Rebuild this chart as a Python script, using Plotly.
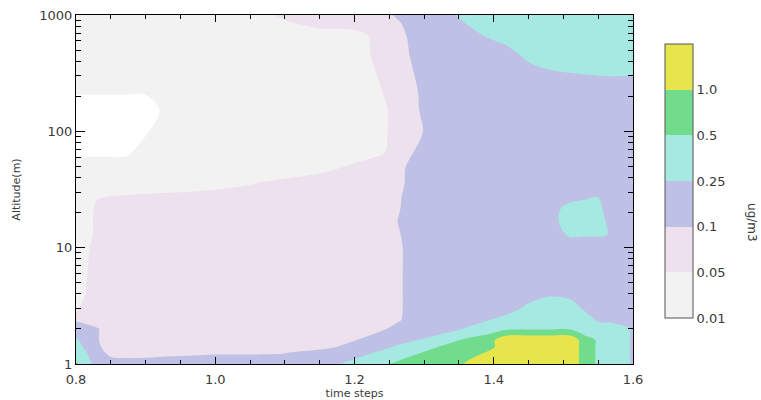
import numpy as np
import plotly.graph_objects as go

# ---------------- data ----------------
TIME_STEPS = [0.800, 0.815, 0.830, 0.850, 0.870, 0.900, 0.930, 0.970, 1.000, 1.050,
              1.100, 1.150, 1.200, 1.225, 1.250, 1.265, 1.280, 1.300, 1.330, 1.360,
              1.390, 1.420, 1.450, 1.480, 1.510, 1.530, 1.550, 1.570, 1.600]

ALTITUDE_M = [1.0, 1.12, 1.26, 1.41, 1.6, 1.8, 2.0, 2.4, 3.0, 4.0, 6.0, 10, 13, 17,
              22, 28, 36, 48, 65, 100, 150, 220, 320, 450, 650, 850, 1000]

# concentration (ug/m3), one row per altitude (bottom -> top), one column per time step
CONC = [
    [0.60, 0.375, 0.1825, 0.175, 0.175, 0.175, 0.175, 0.175, 0.175, 0.175, 0.175, 0.1465, 0.375, 0.375, 0.495, 0.65, 0.75, 0.75, 0.70, 1.05, 1.25, 1.40, 1.40, 1.40, 1.40, 0.75, 0.4675, 0.375, 0.238],
    [0.40, 0.30, 0.169, 0.1195, 0.103, 0.106, 0.13, 0.166, 0.1795, 0.1795, 0.1645, 0.175, 0.2395, 0.375, 0.40, 0.4625, 0.58, 0.70, 0.75, 0.90, 1.25, 1.40, 1.40, 1.40, 1.40, 0.75, 0.4675, 0.375, 0.238],
    [0.375, 0.255, 0.2035, 0.075, 0.075, 0.075, 0.075, 0.075, 0.085, 0.085, 0.095, 0.175, 0.175, 0.235, 0.375, 0.375, 0.40, 0.53, 0.75, 0.75, 1.025, 1.40, 1.40, 1.40, 1.40, 0.75, 0.4675, 0.375, 0.238],
    [0.375, 0.205, 0.1315, 0.075, 0.075, 0.075, 0.075, 0.075, 0.075, 0.075, 0.075, 0.075, 0.175, 0.175, 0.2245, 0.325, 0.375, 0.375, 0.605, 0.75, 0.75, 1.40, 1.40, 1.40, 1.40, 0.75, 0.4675, 0.375, 0.238],
    [0.30, 0.175, 0.1135, 0.075, 0.075, 0.075, 0.075, 0.075, 0.075, 0.075, 0.075, 0.075, 0.0975, 0.175, 0.175, 0.154, 0.22, 0.30, 0.375, 0.61, 0.75, 1.40, 1.40, 1.40, 1.40, 0.75, 0.4675, 0.375, 0.238],
    [0.19, 0.175, 0.1135, 0.075, 0.075, 0.075, 0.075, 0.075, 0.075, 0.075, 0.075, 0.075, 0.075, 0.099, 0.175, 0.175, 0.175, 0.175, 0.28, 0.375, 0.495, 0.90, 0.90, 0.90, 0.90, 0.475, 0.375, 0.375, 0.238],
    [0.175, 0.175, 0.1135, 0.075, 0.075, 0.075, 0.075, 0.075, 0.075, 0.075, 0.075, 0.075, 0.075, 0.075, 0.115, 0.175, 0.175, 0.175, 0.175, 0.275, 0.425, 0.4625, 0.475, 0.475, 0.475, 0.375, 0.375, 0.375, 0.238],
    [0.095, 0.075, 0.075, 0.075, 0.075, 0.075, 0.075, 0.075, 0.075, 0.075, 0.075, 0.075, 0.075, 0.075, 0.075, 0.095, 0.175, 0.175, 0.175, 0.175, 0.235, 0.375, 0.375, 0.375, 0.375, 0.375, 0.226, 0.2125, 0.169],
    [0.042, 0.075, 0.075, 0.075, 0.075, 0.075, 0.075, 0.075, 0.075, 0.075, 0.075, 0.075, 0.075, 0.075, 0.075, 0.09, 0.175, 0.175, 0.175, 0.175, 0.175, 0.175, 0.325, 0.375, 0.375, 0.2305, 0.175, 0.175, 0.175],
    [0.03, 0.0525, 0.075, 0.075, 0.075, 0.075, 0.075, 0.075, 0.075, 0.075, 0.075, 0.075, 0.075, 0.075, 0.075, 0.09, 0.175, 0.175, 0.175, 0.175, 0.175, 0.175, 0.1675, 0.2335, 0.2065, 0.175, 0.175, 0.175, 0.175],
    [0.03, 0.048, 0.075, 0.075, 0.075, 0.075, 0.075, 0.075, 0.075, 0.075, 0.075, 0.075, 0.075, 0.075, 0.075, 0.09, 0.175, 0.175, 0.175, 0.175, 0.175, 0.175, 0.175, 0.175, 0.175, 0.175, 0.175, 0.175, 0.175],
    [0.03, 0.042, 0.07, 0.075, 0.075, 0.075, 0.075, 0.075, 0.075, 0.075, 0.075, 0.075, 0.075, 0.075, 0.075, 0.09, 0.175, 0.175, 0.175, 0.175, 0.175, 0.175, 0.175, 0.175, 0.175, 0.175, 0.175, 0.175, 0.175],
    [0.03, 0.03, 0.065, 0.075, 0.075, 0.075, 0.075, 0.075, 0.075, 0.075, 0.075, 0.075, 0.075, 0.075, 0.075, 0.0975, 0.175, 0.175, 0.175, 0.175, 0.175, 0.175, 0.175, 0.175, 0.2875, 0.275, 0.275, 0.2425, 0.175],
    [0.03, 0.03, 0.065, 0.075, 0.075, 0.075, 0.075, 0.075, 0.075, 0.075, 0.075, 0.075, 0.075, 0.075, 0.075, 0.1195, 0.175, 0.175, 0.175, 0.175, 0.175, 0.175, 0.175, 0.175, 0.415, 0.375, 0.375, 0.175, 0.175],
    [0.03, 0.03, 0.059, 0.075, 0.075, 0.075, 0.075, 0.075, 0.075, 0.075, 0.075, 0.075, 0.075, 0.075, 0.075, 0.0975, 0.19, 0.175, 0.175, 0.175, 0.175, 0.175, 0.175, 0.175, 0.345, 0.35, 0.30, 0.1795, 0.175],
    [0.03, 0.03, 0.046, 0.0492, 0.051, 0.0525, 0.055, 0.06, 0.075, 0.075, 0.075, 0.075, 0.075, 0.075, 0.075, 0.09, 0.22, 0.175, 0.175, 0.175, 0.175, 0.175, 0.175, 0.175, 0.175, 0.22, 0.2455, 0.175, 0.175],
    [0.03, 0.03, 0.03, 0.034, 0.0376, 0.0368, 0.036, 0.034, 0.0264, 0.046, 0.065, 0.078, 0.075, 0.075, 0.075, 0.075, 0.1825, 0.175, 0.175, 0.175, 0.175, 0.175, 0.175, 0.175, 0.175, 0.175, 0.175, 0.175, 0.175],
    [0.03, 0.03, 0.03, 0.03, 0.03, 0.03, 0.03, 0.03, 0.03, 0.03, 0.022, 0.038, 0.063, 0.0765, 0.075, 0.075, 0.1675, 0.175, 0.175, 0.175, 0.175, 0.175, 0.175, 0.175, 0.175, 0.175, 0.175, 0.175, 0.175],
    [0.0084, 0.0084, 0.0084, 0.0084, 0.0084, 0.0248, 0.03, 0.03, 0.03, 0.03, 0.03, 0.03, 0.03, 0.04, 0.055, 0.075, 0.09, 0.22, 0.175, 0.175, 0.175, 0.175, 0.175, 0.175, 0.175, 0.175, 0.175, 0.175, 0.175],
    [0.005, 0.005, 0.005, 0.005, 0.005, 0.009, 0.03, 0.03, 0.03, 0.03, 0.03, 0.03, 0.03, 0.03, 0.0525, 0.075, 0.075, 0.1075, 0.175, 0.175, 0.175, 0.175, 0.175, 0.175, 0.175, 0.175, 0.175, 0.175, 0.175],
    [0.005, 0.005, 0.005, 0.005, 0.005, 0.005, 0.02, 0.03, 0.03, 0.03, 0.03, 0.03, 0.03, 0.03, 0.0525, 0.075, 0.075, 0.1405, 0.175, 0.175, 0.175, 0.175, 0.175, 0.175, 0.175, 0.175, 0.175, 0.175, 0.175],
    [0.014, 0.014, 0.014, 0.014, 0.014, 0.014, 0.022, 0.03, 0.03, 0.03, 0.03, 0.03, 0.03, 0.03, 0.0665, 0.075, 0.075, 0.16, 0.175, 0.175, 0.175, 0.175, 0.175, 0.175, 0.175, 0.175, 0.175, 0.175, 0.175],
    [0.03, 0.03, 0.03, 0.03, 0.03, 0.03, 0.03, 0.03, 0.03, 0.03, 0.03, 0.03, 0.03, 0.044, 0.075, 0.075, 0.09, 0.19, 0.175, 0.175, 0.175, 0.175, 0.175, 0.235, 0.2525, 0.2625, 0.275, 0.28, 0.275],
    [0.03, 0.03, 0.03, 0.03, 0.03, 0.03, 0.03, 0.03, 0.03, 0.03, 0.03, 0.03, 0.03, 0.0525, 0.075, 0.075, 0.106, 0.175, 0.175, 0.175, 0.175, 0.175, 0.3325, 0.375, 0.375, 0.375, 0.375, 0.375, 0.375],
    [0.03, 0.03, 0.03, 0.03, 0.03, 0.03, 0.03, 0.03, 0.03, 0.03, 0.03, 0.03, 0.03, 0.056, 0.075, 0.075, 0.1375, 0.175, 0.175, 0.175, 0.255, 0.375, 0.375, 0.375, 0.375, 0.375, 0.375, 0.375, 0.375],
    [0.03, 0.03, 0.03, 0.03, 0.03, 0.03, 0.03, 0.03, 0.03, 0.03, 0.0448, 0.065, 0.075, 0.075, 0.075, 0.095, 0.19, 0.175, 0.175, 0.255, 0.375, 0.375, 0.375, 0.375, 0.375, 0.375, 0.375, 0.375, 0.375],
    [0.03, 0.03, 0.03, 0.03, 0.03, 0.03, 0.03, 0.03, 0.03, 0.03, 0.06, 0.075, 0.075, 0.075, 0.09, 0.16, 0.175, 0.175, 0.175, 0.375, 0.375, 0.375, 0.375, 0.375, 0.375, 0.375, 0.375, 0.375, 0.375],
]

LEVELS = [0.01, 0.05, 0.1, 0.25, 0.5, 1.0]
LEVEL_LABELS = ["0.01", "0.05", "0.1", "0.25", "0.5", "1.0"]
X_TICKS = [0.8, 1.0, 1.2, 1.4, 1.6]
X_TICK_LABELS = ["0.8", "1.0", "1.2", "1.4", "1.6"]
Y_TICKS = [1, 10, 100, 1000]
Y_TICK_LABELS = ["1", "10", "100", "1000"]

for row in CONC:
    assert len(row) == len(TIME_STEPS)
assert len(CONC) == len(ALTITUDE_M)

# ---------------- styling ----------------
C_NONE = "#ffffff"
BAND_COLORS = ["#f2f2f2", "#ece1ed", "#bfc0e6", "#a6e8e2", "#70dc8c", "#e6e64c"]
FONT = "DejaVu Sans"
TXT = "#3a3a3a"

# map concentrations onto evenly spaced band indices (one unit per colour band)
band_index = np.interp(np.array(CONC, dtype=float),
                       [0.0] + LEVELS + [1.5, 2.0],
                       [-1, 0, 1, 2, 3, 4, 5, 6, 7])

W, P, L, C, G, Y = BAND_COLORS
contour_scale = [
    [0.0, C_NONE], [1 / 6, C_NONE],
    [1 / 6, W], [2 / 6, W],
    [2 / 6, P], [3 / 6, P],
    [3 / 6, L], [4 / 6, L],
    [4 / 6, C], [5 / 6, C],
    [5 / 6, G], [0.96, G],
    [0.96, Y], [1.0, Y],
]
bar_scale = [
    [0.0, W], [1 / 6, W],
    [1 / 6, P], [2 / 6, P],
    [2 / 6, L], [3 / 6, L],
    [3 / 6, C], [4 / 6, C],
    [4 / 6, G], [5 / 6, G],
    [5 / 6, Y], [1.0, Y],
]

fig = go.Figure()
fig.add_trace(go.Contour(
    x=TIME_STEPS, y=ALTITUDE_M, z=band_index,
    autocontour=False,
    contours=dict(start=0, end=5, size=1, coloring="fill", showlines=False),
    line=dict(width=0),
    colorscale=contour_scale,
    showscale=False,
    hoverinfo="skip",
))

# colour bar (discrete bands labelled at the concentration levels)
fig.add_trace(go.Scatter(
    x=[None], y=[None], mode="markers", showlegend=False, hoverinfo="skip",
    marker=dict(
        color=[0], cmin=0, cmax=6, colorscale=bar_scale, showscale=True,
        colorbar=dict(
            x=1.0575, xanchor="left", y=0.5244, yanchor="middle",
            len=274, lenmode="pixels", thickness=28, thicknessmode="pixels",
            xpad=0, ypad=0, outlinewidth=1, outlinecolor="#555555",
            tickvals=list(range(len(LEVELS))), ticktext=LEVEL_LABELS,
            ticks="", tickfont=dict(family=FONT, size=13, color=TXT),
        ),
    ),
))

axis_common = dict(
    showline=True, linecolor="black", linewidth=1, mirror="allticks",
    ticks="inside", tickcolor="black", tickwidth=1,
    showgrid=False, zeroline=False, automargin=False,
    tickfont=dict(family=FONT, size=13, color=TXT),
)

fig.update_layout(
    width=761, height=400,
    margin=dict(l=76, r=128, t=15, b=36, autoexpand=False),
    paper_bgcolor="white", plot_bgcolor="white",
    showlegend=False,
    xaxis=dict(
        range=[0.8, 1.6], tickmode="array", tickvals=X_TICKS, ticktext=X_TICK_LABELS,
        ticklen=7, ticklabelstandoff=3,
        minor=dict(ticks="inside", ticklen=4, dtick=0.05, tick0=0.8,
                   tickcolor="black", showgrid=False),
        title=dict(text="time steps", font=dict(family=FONT, size=11, color=TXT), standoff=3),
        **axis_common,
    ),
    yaxis=dict(
        type="log", range=[0, 3], tickmode="array", tickvals=Y_TICKS, ticktext=Y_TICK_LABELS,
        ticklen=9,
        minor=dict(ticks="inside", ticklen=5, tickmode="array",
                   tickvals=[2, 3, 4, 5, 6, 7, 8, 9, 20, 30, 40, 50, 60, 70, 80, 90,
                             200, 300, 400, 500, 600, 700, 800, 900],
                   tickcolor="black", showgrid=False),
        title=dict(text="Altitude(m)", font=dict(family=FONT, size=11, color=TXT), standoff=16),
        **axis_common,
    ),
    annotations=[dict(
        text="ug/m3", xref="paper", yref="paper", x=1.2136, y=0.404,
        xanchor="center", yanchor="middle", textangle=90, showarrow=False,
        font=dict(family=FONT, size=12, color=TXT),
    )],
)

fig.write_html("out.html",
               config={"displayModeBar": False},
               post_script="document.body.style.margin='0px';document.body.style.padding='0px';")
